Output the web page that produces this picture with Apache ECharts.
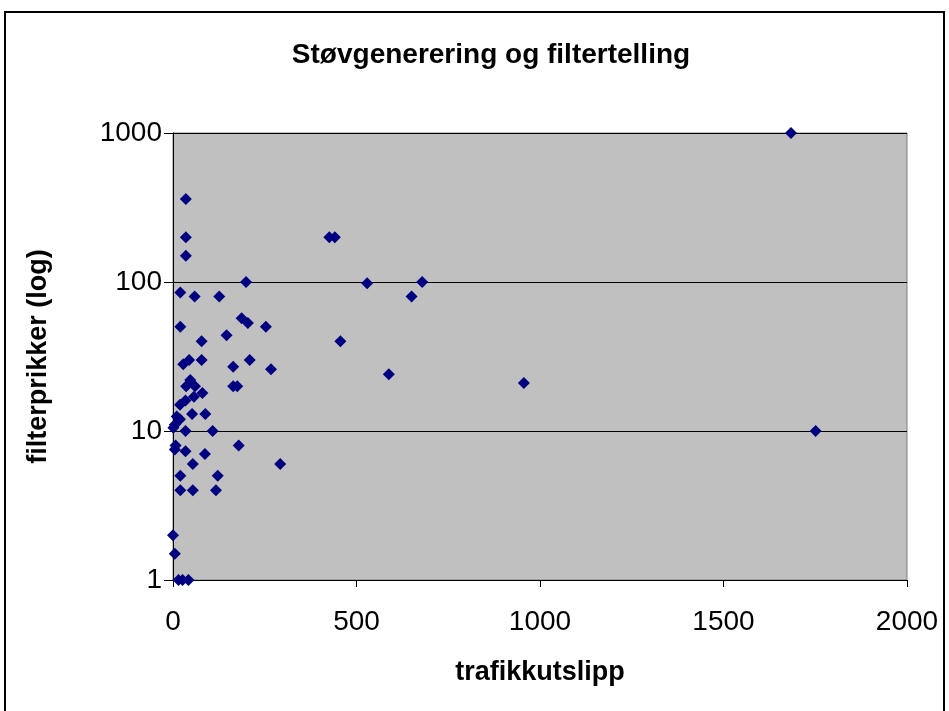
<!DOCTYPE html>
<html>
<head>
<meta charset="utf-8">
<title>Støvgenerering og filtertelling</title>
<script src="https://cdn.jsdelivr.net/npm/echarts@6/dist/echarts.min.js"></script>
<style>
    html, body { margin: 0; padding: 0; background: #fff; }
    #chart { width: 949px; height: 711px; }
</style>
</head>
<body>
<div id="chart"></div>
<script>
// trafikkutslipp (x) and filterprikker (y)
var trafikk = [1684, 1751, 956, 679, 650, 588, 529, 456, 441, 426,
    292, 267, 253, 209, 204, 199, 187, 179, 175, 164,
    164, 146, 126, 122, 117, 108, 88, 87, 78, 78,
    80, 60, 59, 57, 54, 54, 52, 47, 44, 36,
    35, 35, 35, 34, 34, 34, 28, 20, 20, 19,
    19, 20, 20, 10, 5, 1, 7, 5, 0, 5,
    15, 26, 42];
var filter = [1000, 10, 21, 100, 80, 24, 98, 40, 200, 200,
    6, 26, 50, 30, 53, 100, 57, 8, 20, 20,
    27, 44, 80, 5, 4, 10, 13, 7, 40, 30,
    18, 20, 80, 17, 6, 4, 13, 22, 30, 20,
    360, 200, 150, 16, 10, 7.3, 28, 85, 50, 15,
    12, 5, 4, 12.5, 11, 10.5, 8, 7.5, 2, 1.5,
    1, 1, 1];
var xTicks = [0, 500, 1000, 1500, 2000];

var points = trafikk.map(function (x, i) {
    return [x, filter[i]];
});

var chart = echarts.init(document.getElementById('chart'));
var font = '"Liberation Sans", Arial, sans-serif';

var option = {
    backgroundColor: '#fff',
    animation: false,
    title: {
        text: 'Støvgenerering og filtertelling',
        left: 486,
        top: 36,
        textAlign: 'center',
        textStyle: {
            fontFamily: font,
            fontSize: 28,
            fontWeight: 'bold',
            color: '#000'
        }
    },
    graphic: [{
        type: 'rect',
        shape: {x: 5, y: 12, width: 939, height: 710},
        style: {fill: 'none', stroke: '#000', lineWidth: 2},
        silent: true
    }],
    grid: {
        left: 173,
        right: 42,
        top: 133,
        bottom: 131,
        show: true,
        backgroundColor: '#C0C0C0',
        borderColor: '#808080',
        borderWidth: 1
    },
    xAxis: {
        type: 'value',
        min: xTicks[0],
        max: xTicks[xTicks.length - 1],
        interval: 500,
        name: 'trafikkutslipp',
        nameLocation: 'middle',
        nameGap: 79,
        nameTextStyle: {fontFamily: font, fontSize: 27, fontWeight: 'bold', color: '#000'},
        axisLine: {lineStyle: {color: '#000', width: 1}},
        axisTick: {show: true, inside: false, length: 7, lineStyle: {color: '#000'}},
        axisLabel: {
            margin: 28,
            fontFamily: font,
            fontSize: 28,
            color: '#000',
            formatter: function (v) { return String(v); }
        },
        splitLine: {show: false}
    },
    yAxis: {
        type: 'log',
        logBase: 10,
        min: 1,
        max: 1000,
        name: 'filterprikker (log)',
        nameLocation: 'middle',
        nameGap: 121,
        nameTextStyle: {fontFamily: font, fontSize: 27, fontWeight: 'bold', color: '#000'},
        axisLine: {show: true, lineStyle: {color: '#000', width: 1}},
        axisTick: {show: true, inside: false, length: 9, lineStyle: {color: '#000'}},
        axisLabel: {
            margin: 11,
            fontFamily: font,
            fontSize: 28,
            color: '#000',
            formatter: function (v) { return String(Math.round(v)); }
        },
        splitLine: {show: true, lineStyle: {color: '#000', width: 1}},
        minorTick: {show: false},
        minorSplitLine: {show: false}
    },
    series: [{
        type: 'scatter',
        data: points,
        symbol: 'diamond',
        symbolSize: 12,
        itemStyle: {color: '#000080', opacity: 1},
        clip: false
    }]
};

option && chart.setOption(option);
</script>
</body>
</html>
